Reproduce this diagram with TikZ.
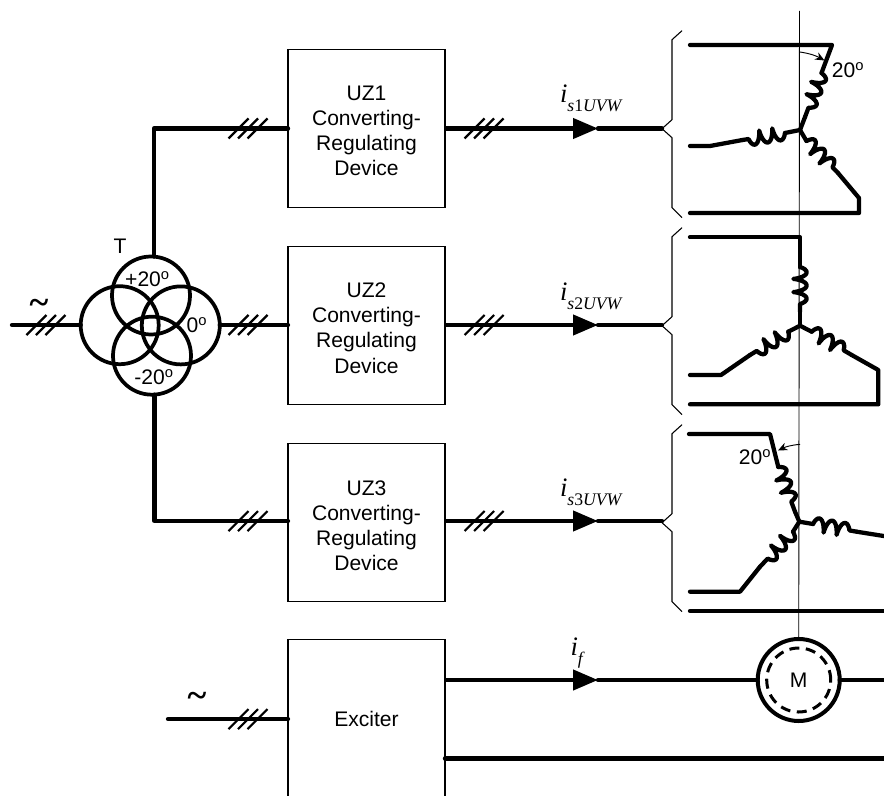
\documentclass[tikz,border=0pt]{standalone}
\usepackage{fontspec}
\setmainfont{Liberation Sans}
\newfontfamily\timesfont{Liberation Serif}
\usetikzlibrary{arrows.meta, positioning, decorations.pathmorphing}
\newcommand{\dego}{\textsuperscript{o}}
\newcommand{\curlab}[3]{{\timesfont\itshape\fontsize{20pt}{20pt}\selectfont i\raisebox{-6.75pt}{\fontsize{13.25pt}{13pt}\selectfont #1\textup{#2}#3}}}
\newcommand{\mainsign}{{\timesfont\bfseries\fontsize{27pt}{27pt}\selectfont\textasciitilde}}
\newcommand{\boxtop}{\rule{0pt}{15pt}}

\begin{document}
\begin{tikzpicture}[
  x=0.75pt, y=-0.75pt,
  every node/.style={font=\fontsize{15.8pt}{18.8pt}\selectfont, outer sep=0pt},
  devbox/.style={draw, line width=0.9pt, minimum width=117.75pt, minimum height=118.5pt, align=center, inner sep=0pt},
  ring/.style={draw, circle, line width=2.8pt, minimum size=58.5pt, inner sep=0pt},
  wire/.style={line width=3.2pt, line cap=round, line join=round},
  coilwire/.style={wire, decorate, decoration={coil, aspect=0.3, amplitude=5pt, segment length=9.9pt}},
  flow/.style={wire, line cap=butt, -{Triangle[length=18.75pt,width=15pt]}},
  thinline/.style={line width=0.7pt},
  angle/.style={thinline, -{Stealth[length=7pt,width=6pt]}},
  lbl/.style={inner sep=0pt},
  slashes/.pic={\foreach \dx in {-9.5,0,9.5} \draw[line width=1.6pt] ({\dx-10},10) -- ({\dx+10},-10);},
  clasp/.pic={\draw[line width=0.8pt, line join=bevel] (20,-98) -- (10,-89) -- (10,-9) -- (0,0) -- (10,9) -- (10,79) -- (20,89);}
]
\useasboundingbox (0,0) rectangle (884,795);

% converter boxes
\node[devbox] (uz1) at (366.5,128.5) {\boxtop UZ1\\Converting-\\Regulating\\Device};
\node[devbox, below=29.25pt of uz1] (uz2) {\boxtop UZ2\\Converting-\\Regulating\\Device};
\node[devbox, below=29.5pt of uz2] (uz3) {\boxtop UZ3\\Converting-\\Regulating\\Device};
\node[devbox, below=28.5pt of uz3] (exciter) {Exciter};

% transformer
\node[ring] (xftop) at (151,295.5) {};
\node[ring] (xfright) at (180.8,325.4) {};
\node[ring] (xfleft) at (119.7,325.2) {};
\node[ring] (xfbot) at (152,355.7) {};
\node[lbl] (xflabel) at (120,246) {T};
\node[lbl] (xfplus) at (147.5,279) {+20\dego};
\node[lbl] (xfzero) at (197,325) {0\dego};
\node[lbl] (xfminus) at (154,377) {-20\dego};

% mains and feeders
\coordinate (mains) at (12,325);
\coordinate (fork1) at (154,128.5);
\coordinate (fork3) at (154.5,521);
\coordinate (exmains) at (168,719);
\draw[wire] (mains) -- (xfleft.west |- mains);
\draw[wire] (xfright.east |- mains) -- (uz2.west |- mains);
\draw[wire] (fork1 |- xftop.north) -- (fork1) -- (uz1.west);
\draw[wire] (fork3 |- xfbot.south) -- (fork3) -- (uz3.west |- fork3);
\draw[wire] (exmains) -- (exciter.west |- exmains);
\node[lbl] (tilde1) at (39,307) {\mainsign};
\node[lbl] (tilde2) at (197,700) {\mainsign};
\pic at (46,325) {slashes};
\pic at (248,325) {slashes};
\pic at (248,128.5) {slashes};
\pic at (248,521) {slashes};
\pic at (248,719) {slashes};

% outputs to the windings
\coordinate (tip1) at (598,128.5);
\coordinate (tip2) at (598,325);
\coordinate (tip3) at (598,521);
\coordinate (tipf) at (598,680);
\coordinate (clasp1) at (662,128.7);
\coordinate (clasp2) at (662,325.7);
\coordinate (clasp3) at (662,522.7);
\draw[flow] (uz1.east) -- (tip1);
\draw[wire] (tip1) -- (clasp1 |- tip1);
\draw[flow] (uz2.east |- tip2) -- (tip2);
\draw[wire] (tip2) -- (clasp2 |- tip2);
\draw[flow] (uz3.east |- tip3) -- (tip3);
\draw[wire] (tip3) -- (clasp3 |- tip3);
\pic at (484,128.5) {slashes};
\pic at (484,325) {slashes};
\pic at (484,521) {slashes};
\pic at (clasp1) {clasp};
\pic at (clasp2) {clasp};
\pic at (clasp3) {clasp};
\node[lbl, anchor=base west] (cur1) at (560,103) {\curlab{s}{1}{UVW}};
\node[lbl, anchor=base west] (cur2) at (560,300) {\curlab{s}{2}{UVW}};
\node[lbl, anchor=base west] (cur3) at (560,496) {\curlab{s}{3}{UVW}};
\node[lbl, anchor=base west] (curf) at (570.5,655) {\curlab{f}{}{}};

% motor and field circuit
\node[draw, circle, line width=3pt, minimum size=61.5pt, inner sep=0pt] (motor) at (798.7,680) {};
\node[draw, circle, line width=2.25pt, dash pattern=on 7.5pt off 4.9pt, minimum size=48pt, inner sep=0pt] (rotor) at (motor.center) {M};
\coordinate (vtop) at (799.5,11);
\coordinate (exfa) at (445,680);
\coordinate (exfb) at (445,758.5);
\coordinate (endf) at (890,680);
\coordinate (endb) at (890,758.5);
\draw[flow] (exfa) -- (tipf);
\draw[wire] (tipf) -- (motor.west);
\draw[wire] (motor.east) -- (endf);
\draw[wire] (exfb) -- (endb);

% first winding
\coordinate (wa) at (800,130);
\coordinate (wa1) at (690,45);
\coordinate (wa2) at (832,45);
\coordinate (wa3) at (821.5,73);
\coordinate (wa4) at (805,117);
\coordinate (wa5) at (785,133);
\coordinate (wa6) at (742.5,140);
\coordinate (wa7) at (710,146);
\coordinate (wa8) at (690,146);
\coordinate (wa9) at (806.5,141);
\coordinate (wa10) at (838,173);
\coordinate (wa11) at (859,198);
\coordinate (wa12) at (859,213);
\coordinate (wa13) at (690,213);
\draw[wire] (wa1) -- (wa2) -- (wa3);
\draw[coilwire] (wa3) -- (wa4);
\draw[wire] (wa4) -- (wa);
\draw[wire] (wa) -- (wa5);
\draw[coilwire] (wa5) -- (wa6);
\draw[wire] (wa6) -- (wa7) -- (wa8);
\draw[wire] (wa) -- (wa9);
\draw[coilwire] (wa9) -- (wa10);
\draw[wire] (wa10) -- (wa11) -- (wa12) -- (wa13);

% second winding
\coordinate (wb) at (800,325.7);
\coordinate (wb1) at (690,237.3);
\coordinate (wb2) at (800,237.3);
\coordinate (wb3) at (800,267);
\coordinate (wb4) at (800,311.7);
\coordinate (wb5) at (788.3,331.7);
\coordinate (wb6) at (750,355);
\coordinate (wb7) at (721,375);
\coordinate (wb8) at (690,375);
\coordinate (wb9) at (811.7,331.7);
\coordinate (wb10) at (851.7,355);
\coordinate (wb11) at (878.3,370);
\coordinate (wb12) at (878.3,404.3);
\coordinate (wb13) at (690,404.3);
\draw[wire] (wb1) -- (wb2) -- (wb3);
\draw[coilwire] (wb3) -- (wb4);
\draw[wire] (wb4) -- (wb);
\draw[wire] (wb) -- (wb5);
\draw[coilwire] (wb5) -- (wb6);
\draw[wire] (wb6) -- (wb7) -- (wb8);
\draw[wire] (wb) -- (wb9);
\draw[coilwire] (wb9) -- (wb10);
\draw[wire] (wb10) -- (wb11) -- (wb12) -- (wb13);

% third winding
\coordinate (wc) at (799.3,521.7);
\coordinate (wc1) at (689,434);
\coordinate (wc2) at (770,434);
\coordinate (wc3) at (778.3,467);
\coordinate (wc4) at (795,511.7);
\coordinate (wc5) at (793,531.7);
\coordinate (wc6) at (760,566.7);
\coordinate (wc7) at (740,591.7);
\coordinate (wc8) at (690,591.7);
\coordinate (wc9) at (813,524);
\coordinate (wc10) at (856.7,531.7);
\coordinate (wc11) at (890,537);
\coordinate (wc12) at (690,611);
\coordinate (wc13) at (890,611);
\draw[wire] (wc1) -- (wc2) -- (wc3);
\draw[coilwire] (wc3) -- (wc4);
\draw[wire] (wc4) -- (wc);
\draw[wire] (wc) -- (wc5);
\draw[coilwire] (wc5) -- (wc6);
\draw[wire] (wc6) -- (wc7) -- (wc8);
\draw[wire] (wc) -- (wc9);
\draw[coilwire] (wc9) -- (wc10);
\draw[wire] (wc10) -- (wc11);
\draw[wire] (wc12) -- (wc13);

% axis and angles
\draw[thinline] (vtop) -- (motor.north);
\coordinate (anga) at (800,52);
\coordinate (angb) at (824.5,60.5);
\coordinate (angc) at (800,444.3);
\coordinate (angd) at (778,450.5);
\draw[angle] (anga) to[bend left=10] (angb);
\draw[angle] (angc) to[bend right=10] (angd);
\node[lbl] (ang1) at (848,70) {20\dego};
\node[lbl] (ang3) at (755,457) {20\dego};
\end{tikzpicture}
\end{document}
